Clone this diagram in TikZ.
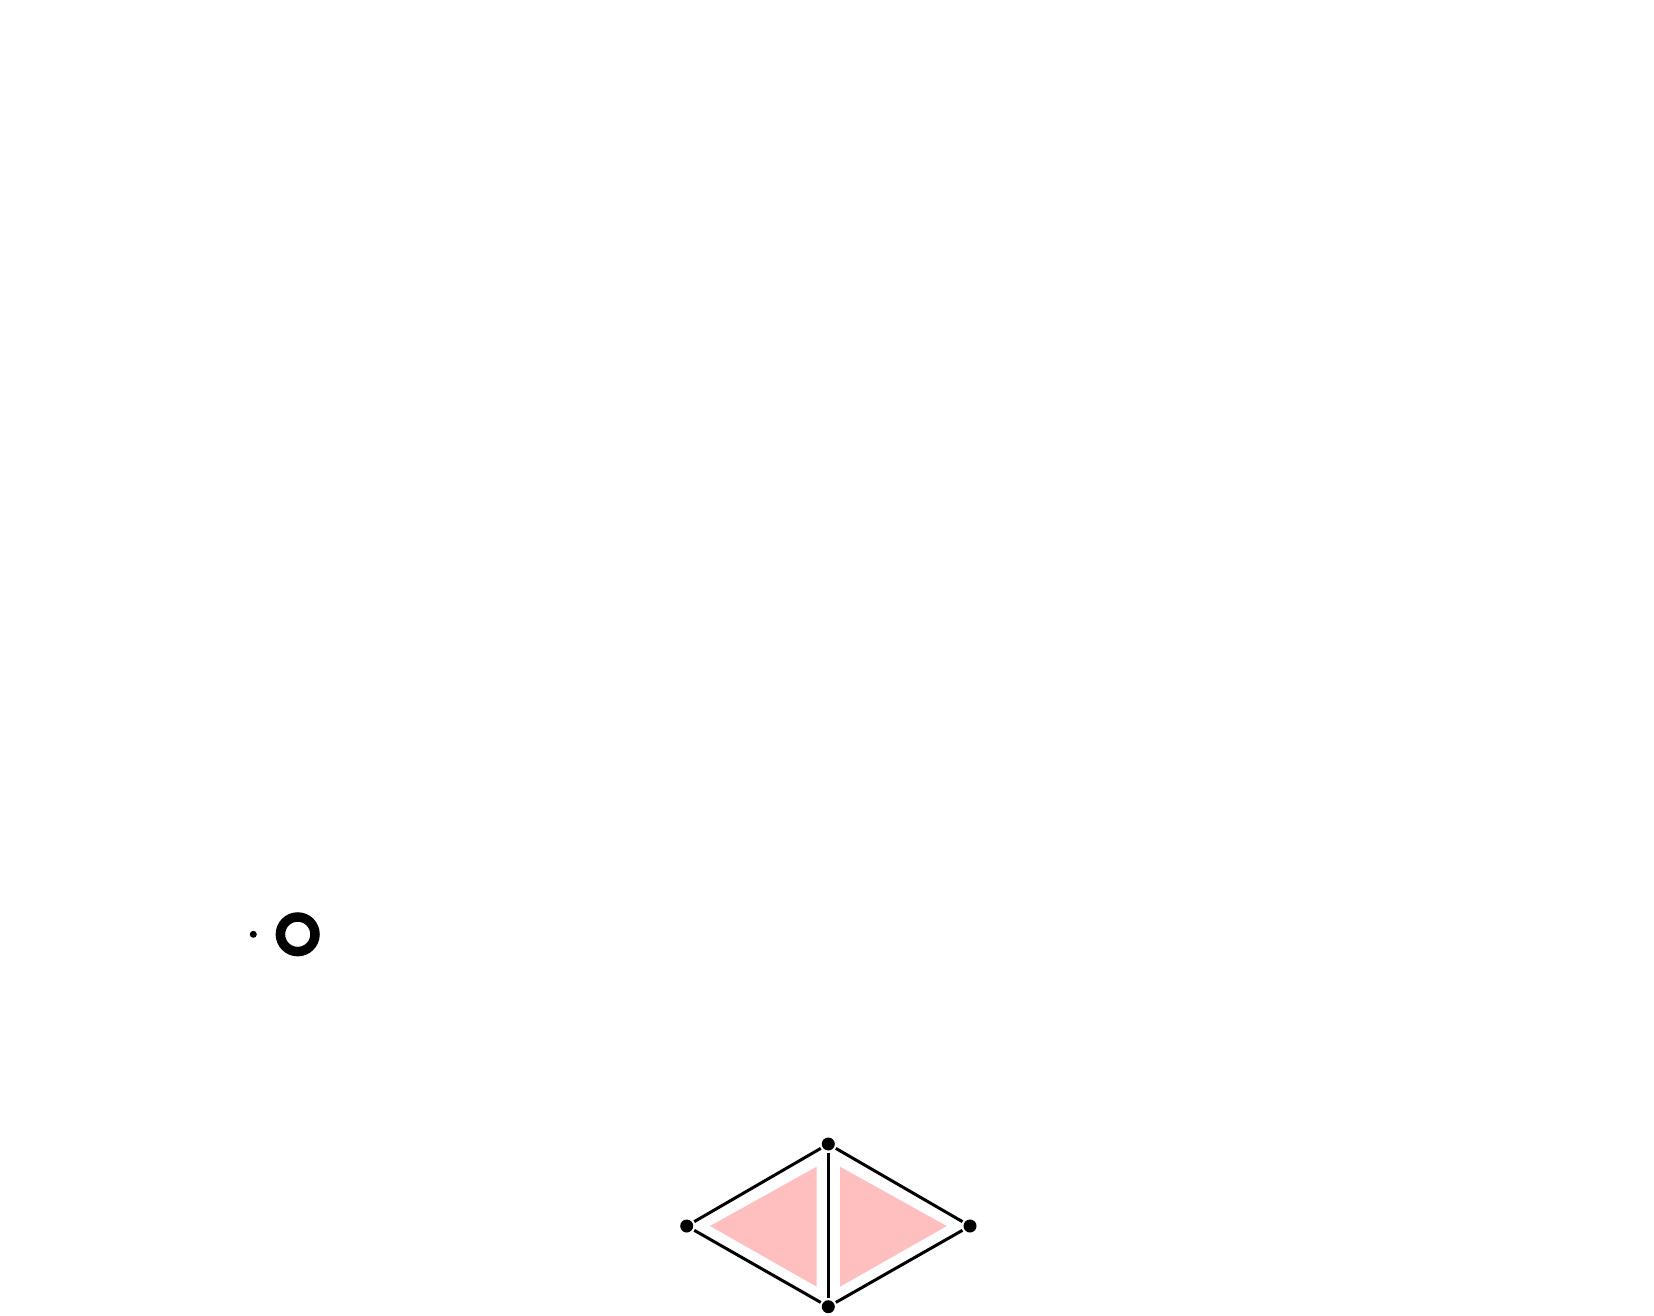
\documentclass[tikz,border=0pt]{standalone}
\begin{document}
\begin{tikzpicture}[x=1pt,y=-1pt,
  vdot/.style={circle,fill=black,inner sep=0pt,minimum size=13pt},
  edge/.style={line width=3pt,shorten <=2pt,shorten >=2pt},
  tri/.style={fill=pinkfill,draw=none}]
\definecolor{pinkfill}{RGB}{255,191,191}
\useasboundingbox[fill=white] (0,0) rectangle (1654,1316);
% small dot and ring
\node[circle,fill=black,inner sep=0pt,minimum size=7pt] (sd) at (253.3,934.3) {};
\node[circle,draw=black,line width=9.5pt,inner sep=0pt,minimum size=34.6pt] (ring) at (297.7,934.3) {};
% pink triangles
\fill[pinkfill] (710,1226) -- (816.7,1166.7) -- (816.7,1286.7) -- cycle;
\fill[pinkfill] (840,1166.7) -- (840,1286.7) -- (946.7,1226) -- cycle;
% vertices
\node[vdot] (t) at (828.3,1144) {};
\node[vdot] (l) at (686.7,1226) {};
\node[vdot] (r) at (970,1226) {};
\node[vdot] (b) at (828.3,1306.7) {};
% edges
\draw[edge] (l) -- (t);
\draw[edge] (t) -- (r);
\draw[edge] (r) -- (b);
\draw[edge] (b) -- (l);
\draw[edge] (t) -- (b);
\end{tikzpicture}
\end{document}
